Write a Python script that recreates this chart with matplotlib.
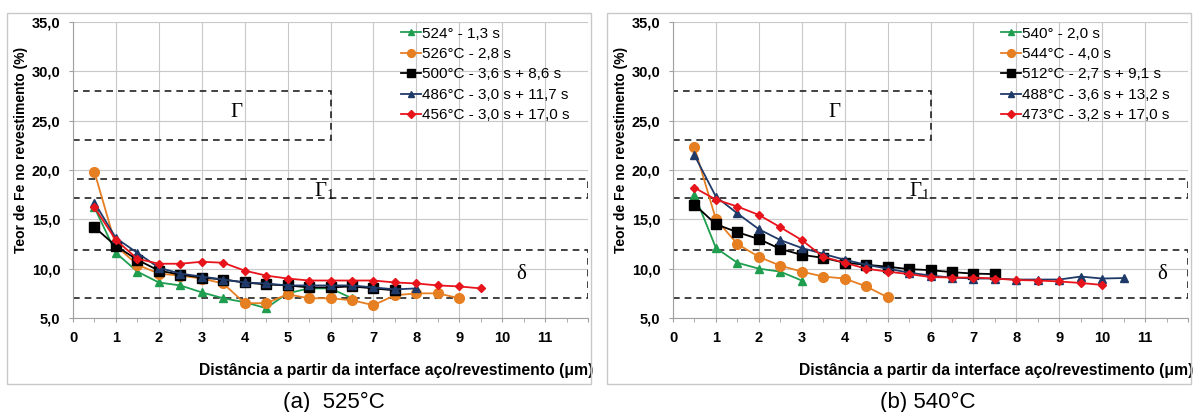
import matplotlib
matplotlib.use("Agg")
import matplotlib.pyplot as plt
from matplotlib.patches import Rectangle
from matplotlib.ticker import MultipleLocator, FuncFormatter

x_a = [0.5, 1.0, 1.5, 2.0, 2.5, 3.0, 3.5, 4.0, 4.5, 5.0, 5.5, 6.0, 6.5, 7.0, 7.5, 8.0, 8.5, 9.0, 9.5, 10.0, 10.5]

# painel (a) 525 C
a_labels = ["524° - 1,3 s", "526°C - 2,8 s", "500°C - 3,6 s + 8,6 s",
            "486°C - 3,0 s + 11,7 s", "456°C - 3,0 s + 17,0 s"]
a_green = [16.2, 11.6, 9.7, 8.6, 8.3, 7.6, 7.0, 6.6, 6.0, 7.5, 8.0, 8.0, 7.0]
a_orange = [19.8, 12.3, 10.4, 9.5, 9.3, 9.0, 8.5, 6.5, 6.5, 7.4, 7.0, 7.0, 6.8, 6.3, 7.3, 7.5, 7.5, 7.0]
a_black = [14.2, 12.3, 10.9, 9.8, 9.4, 9.1, 8.9, 8.6, 8.4, 8.3, 8.1, 8.1, 8.2, 8.0, 7.8]
a_navy = [16.7, 13.1, 11.6, 10.1, 9.5, 9.2, 8.9, 8.6, 8.5, 8.3, 8.3, 8.3, 8.3, 8.1, 7.9, 8.0]
a_red = [16.2, 12.9, 11.0, 10.5, 10.5, 10.7, 10.6, 9.8, 9.3, 9.0, 8.8, 8.8, 8.8, 8.8, 8.6, 8.5, 8.3, 8.2, 8.0]

# painel (b) 540 C
b_labels = ["540° - 2,0 s", "544°C - 4,0 s", "512°C - 2,7 s + 9,1 s",
            "488°C - 3,6 s + 13,2 s", "473°C - 3,2 s + 17,0 s"]
b_green = [17.5, 12.1, 10.6, 10.0, 9.7, 8.8]
b_orange = [22.3, 15.0, 12.5, 11.2, 10.3, 9.7, 9.2, 9.0, 8.2, 7.1]
b_black = [16.5, 14.5, 13.7, 13.0, 12.0, 11.4, 11.1, 10.6, 10.4, 10.2, 9.95, 9.85, 9.65, 9.5, 9.45]
b_navy = [21.5, 17.3, 15.6, 14.0, 12.9, 12.1, 11.5, 10.9, 10.4, 10.0, 9.6, 9.3, 9.1, 9.0, 9.0, 8.9, 8.9, 8.9, 9.2, 9.0, 9.05]
b_red = [18.2, 17.0, 16.3, 15.45, 14.2, 12.9, 11.2, 10.6, 10.0, 9.7, 9.45, 9.15, 9.1, 9.1, 9.0, 8.85, 8.8, 8.7, 8.55, 8.35]

colors = ["#1f9e4f", "#e67e22", "#000000", "#1f3a68", "#e8141c"]
markers = ["^", "o", "s", "^", "D"]
msizes = [6, 7, 7, 6, 4.5]

# fases: (x0, x1, y0, y1, rotulo, y_rot); x do rotulo varia por painel
phases = [(0, 6, 23.0, 28.0, "Γ", 25.8),
          (0, 12, 17.2, 19.1, "Γ$_1$", 17.9),
          (0, 12, 7.0, 11.9, "δ", 9.4)]
a_phase_x = [3.8, 5.85, 10.45]
b_phase_x = [3.77, 5.75, 11.4]

plt.rcParams["font.family"] = ["Liberation Sans", "DejaVu Sans"]
plt.rcParams["mathtext.fontset"] = "custom"
plt.rcParams["mathtext.rm"] = "Liberation Serif"
plt.rcParams["mathtext.it"] = "Liberation Serif"

fig = plt.figure(figsize=(11.94, 4.12), dpi=100)

# moldura de cada grafico
for x0 in [7, 607]:
    fig.patches.append(Rectangle((x0 / 1194, 1 - 384 / 412), 584 / 1194, 371 / 412,
                                 transform=fig.transFigure, fill=False,
                                 edgecolor="#c8c8c8", lw=1.0))

panels = [(73, [a_green, a_orange, a_black, a_navy, a_red], a_labels, a_phase_x, "(a)  525°C", 334),
          (673, [b_green, b_orange, b_black, b_navy, b_red], b_labels, b_phase_x, "(b) 540°C", 928)]

for left_px, series, labels, phase_x, caption, cap_px in panels:
    ax = fig.add_axes([left_px / 1194, 1 - 318 / 412, 515 / 1194, 296 / 412])
    ax.set_xlim(0, 12)
    ax.set_ylim(5, 35)
    ax.xaxis.set_major_locator(MultipleLocator(1))
    ax.xaxis.set_minor_locator(MultipleLocator(0.5))
    ax.yaxis.set_major_locator(MultipleLocator(5))
    ax.grid(True, which="major", color="#c8c8c8", lw=0.8)
    ax.set_axisbelow(True)
    for s in ["top", "right"]:
        ax.spines[s].set_visible(False)
    for s in ["left", "bottom"]:
        ax.spines[s].set_color("#a0a0a0")
    ax.tick_params(which="both", color="#a0a0a0", length=3)
    ax.tick_params(which="major", labelsize=10.5, pad=6)
    ax.xaxis.set_major_formatter(FuncFormatter(lambda v, p: "" if v > 11 else "%d" % v))
    ax.yaxis.set_major_formatter(FuncFormatter(lambda v, p: ("%.1f" % v).replace(".", ",")))
    for lab in ax.get_xticklabels() + ax.get_yticklabels():
        lab.set_fontweight("bold")

    for (x0, x1, y0, y1, txt, ty), tx in zip(phases, phase_x):
        ax.add_patch(Rectangle((x0, y0), x1 - x0, y1 - y0, fill=False,
                               edgecolor="#222222", ls=(0, (4, 3)), lw=1.2, zorder=2))
        ax.text(tx, ty, txt, fontsize=15, family="Liberation Serif", ha="center", va="center")

    for vals, lab, c, m, ms in zip(series, labels, colors, markers, msizes):
        ax.plot(x_a[:len(vals)], vals, color=c, marker=m, ms=ms, lw=1.3, label=lab, zorder=3)

    ax.legend(loc="upper left", bbox_to_anchor=(0.625, 1.005), frameon=False, fontsize=11,
              handlelength=1.3, handletextpad=0.1, labelspacing=0.42, borderaxespad=0,
              markerscale=0.8)

    ax.set_ylabel("Teor de Fe no revestimento (%)", fontsize=10, fontweight="bold")
    ax.yaxis.set_label_coords(-0.088, 0.568)
    ax.text(1.011, -0.176, "Distância a partir da interface aço/revestimento (μm)",
            transform=ax.transAxes, ha="right", va="center", fontsize=11.3, fontweight="bold")
    fig.text(cap_px / 1194, 1 - 402 / 412, caption, fontsize=16, va="center", ha="center")

fig.savefig("out.png", dpi=100)
